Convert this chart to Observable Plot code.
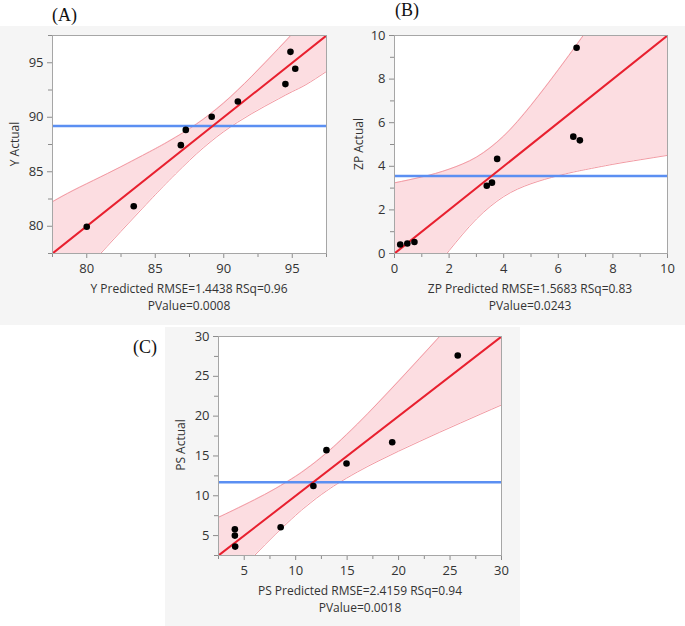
<!DOCTYPE html>
<html>
<head>
<meta charset="utf-8">
<script src="https://cdn.jsdelivr.net/npm/d3@7"></script>
<script src="https://cdn.jsdelivr.net/npm/@observablehq/plot@0.6"></script>
<style>
  html, body { margin: 0; padding: 0; background: #fff; }
  #page { position: relative; width: 685px; height: 626px; overflow: hidden; font-family: "Open Sans", sans-serif; color: #333; }
  .bg { position: absolute; background: #f5f5f5; }
  .panel { position: absolute; }
  .title { position: absolute; font-family: "Liberation Serif", "Times New Roman", serif; font-size: 18px; line-height: 20px; color: #111; }
  .xlab { position: absolute; text-align: center; font-size: 12px; line-height: 17px; color: #333; white-space: nowrap; }
  .ylab { position: absolute; width: 120px; text-align: center; font-size: 12px; line-height: 16px; color: #333; transform: rotate(-90deg); transform-origin: 50% 50%; white-space: nowrap; }
</style>
</head>
<body>
<div id="page">
  <div class="bg" style="left:0;top:26px;width:685px;height:299px"></div>
  <div class="bg" style="left:165px;top:327px;width:355px;height:299px"></div>
</div>
<script>
// ---------- Panel A : Y ----------
const predA = [80.0, 83.43, 86.87, 87.23, 89.12, 91.03, 94.5, 94.87, 95.22];
const actA  = [79.95, 81.84, 87.44, 88.84, 90.04, 91.45, 93.04, 96.0, 94.45];
const meanA = 89.2;
const fitA = [77.5, 97.5];
const bandXA  = [77.5, 79, 81, 83, 85, 86, 87, 88, 89, 90, 91, 92, 93, 94, 95, 96, 97.5];
const bandLoA = [72.75, 74.72, 77.48, 80.21, 82.89, 84.19, 85.44, 86.63, 87.71, 88.68, 89.53, 90.3, 91.01, 91.69, 92.35, 92.99, 94.2];
const bandHiA = [82.25, 83.28, 84.52, 85.79, 87.11, 87.81, 88.56, 89.37, 90.29, 91.32, 92.47, 93.7, 94.99, 96.31, 97.65, 99.01, 100.8];
const majorA = [80, 85, 90, 95];
const minorA = [77.5, 82.5, 87.5, 92.5, 97.5];

// ---------- Panel B : ZP ----------
const predB = [0.21, 0.47, 0.73, 3.38, 3.57, 3.76, 6.55, 6.79, 6.67];
const actB  = [0.41, 0.46, 0.53, 3.11, 3.25, 4.34, 5.36, 5.19, 9.44];
const meanB = 3.55;
const fitB = [0, 10];
const bandXB  = [0, 0.5, 1, 1.5, 2, 2.5, 3, 3.5, 4, 4.5, 5, 5.5, 6, 6.5, 7, 8, 9, 10];
const bandLoB = [-3.24, -2.37, -1.51, -0.67, 0.13, 0.89, 1.58, 2.15, 2.61, 2.95, 3.2, 3.4, 3.57, 3.72, 3.85, 4.09, 4.3, 4.5];
const bandHiB = [3.24, 3.37, 3.51, 3.67, 3.87, 4.11, 4.42, 4.85, 5.39, 6.05, 6.8, 7.6, 8.43, 9.28, 10.15, 11.9, 13.7, 15.5];
const majorB = [0, 2, 4, 6, 8, 10];
const minorB = [1, 3, 5, 7, 9];

// ---------- Panel C : PS ----------
const predC = [4.09, 4.09, 4.12, 8.54, 11.72, 12.99, 14.94, 19.38, 25.75];
const actC  = [5.79, 5.0, 3.62, 6.04, 11.22, 15.73, 14.06, 16.73, 27.62];
const meanC = 11.7;
const fitC = [2.5, 30];
const bandXC  = [2.5, 4, 6, 8, 10, 11, 12, 13, 14, 16, 18, 20, 22, 24, 26, 28, 30];
const bandLoC = [-2.3, -0.22, 2.5, 5.12, 7.55, 8.65, 9.68, 10.61, 11.47, 12.99, 14.34, 15.6, 16.8, 17.98, 19.13, 20.27, 21.4];
const bandHiC = [7.3, 8.22, 9.5, 10.88, 12.45, 13.35, 14.32, 15.39, 16.53, 19.01, 21.66, 24.4, 27.2, 30.02, 32.87, 35.73, 38.6];
const majorC = [5, 10, 15, 20, 25, 30];
const minorC = [2.5, 7.5, 12.5, 17.5, 22.5, 27.5];

const panels = [
  {pred: predA, act: actA, mean: meanA, fit: fitA, bx: bandXA, blo: bandLoA, bhi: bandHiA,
   major: majorA, minor: minorA, domain: [77.5, 97.5],
   left: 0, top: 26, width: 333, height: 265, mL: 52, mR: 7, mT: 9, mB: 38},
  {pred: predB, act: actB, mean: meanB, fit: fitB, bx: bandXB, blo: bandLoB, bhi: bandHiB,
   major: majorB, minor: minorB, domain: [0, 10],
   left: 340, top: 26, width: 345, height: 265, mL: 54, mR: 18, mT: 9, mB: 38},
  {pred: predC, act: actC, mean: meanC, fit: fitC, bx: bandXC, blo: bandLoC, bhi: bandHiC,
   major: majorC, minor: minorC, domain: [2.5, 30],
   left: 165, top: 327, width: 355, height: 262, mL: 53, mR: 19, mT: 9, mB: 34}
];

const page = document.getElementById("page");
const tickStroke = "#8c8c8c";

for (const p of panels) {
  const band = p.bx.map((x, i) => ({x, lo: p.blo[i], hi: p.bhi[i]}));
  const pts = p.pred.map((x, i) => ({x, y: p.act[i]}));
  const chart = Plot.plot({
    width: p.width, height: p.height,
    marginLeft: p.mL, marginRight: p.mR, marginTop: p.mT, marginBottom: p.mB,
    style: {background: "transparent", fontFamily: "Open Sans, sans-serif", fontSize: "13px", color: "#333", overflow: "visible"},
    x: {domain: p.domain, label: null},
    y: {domain: p.domain, label: null},
    marks: [
      Plot.frame({fill: "white", stroke: "none"}),
      Plot.areaY(band, {x: "x", y1: "lo", y2: "hi", curve: "natural", fill: "#fcdde1", clip: true}),
      Plot.line(band, {x: "x", y: "lo", curve: "natural", stroke: "#f29aa3", strokeWidth: 1, clip: true}),
      Plot.line(band, {x: "x", y: "hi", curve: "natural", stroke: "#f29aa3", strokeWidth: 1, clip: true}),
      Plot.ruleY([p.mean], {stroke: "#5b8ff2", strokeWidth: 2.5}),
      Plot.line(p.fit, {x: d => d, y: d => d, stroke: "#e8202f", strokeWidth: 2, clip: true}),
      Plot.dot(pts, {x: "x", y: "y", r: 3.3, fill: "#000", stroke: "none"}),
      Plot.axisX({ticks: p.major, tickSize: 5, tickPadding: 5, stroke: tickStroke, fill: "#333", label: null}),
      Plot.axisX({ticks: p.minor, tickSize: 4, tickFormat: () => "", stroke: tickStroke, label: null}),
      Plot.axisY({ticks: p.major, tickSize: 5, tickPadding: 4, stroke: tickStroke, fill: "#333", label: null}),
      Plot.axisY({ticks: p.minor, tickSize: 4, tickFormat: () => "", stroke: tickStroke, label: null}),
      Plot.frame({stroke: "#a6a6a6", strokeWidth: 1})
    ]
  });
  chart.classList.add("panel");
  chart.style.left = p.left + "px";
  chart.style.top = p.top + "px";
  chart.style.position = "absolute";
  page.appendChild(chart);
}

function addDiv(cls, text, css) {
  const d = document.createElement("div");
  d.className = cls;
  d.innerHTML = text;
  Object.assign(d.style, css);
  page.appendChild(d);
}
// titles
addDiv("title", "(A)", {left: "52px", top: "5px"});
addDiv("title", "(B)", {left: "395px", top: "0px"});
addDiv("title", "(C)", {left: "133px", top: "337px"});
// x labels
addDiv("xlab", "Y Predicted RMSE=1.4438 RSq=0.96<br>PValue=0.0008", {left: "39px", width: "300px", top: "280px"});
addDiv("xlab", "ZP Predicted RMSE=1.5683 RSq=0.83<br>PValue=0.0243", {left: "380px", width: "300px", top: "280px"});
addDiv("xlab", "PS Predicted RMSE=2.4159 RSq=0.94<br>PValue=0.0018", {left: "210px", width: "300px", top: "582px"});
// y labels
addDiv("ylab", "Y Actual", {left: (15 - 60) + "px", top: (144 - 8) + "px"});
addDiv("ylab", "ZP Actual", {left: (359 - 60) + "px", top: (144 - 8) + "px"});
addDiv("ylab", "PS Actual", {left: (181 - 60) + "px", top: (445 - 8) + "px"});
</script>
</body>
</html>
